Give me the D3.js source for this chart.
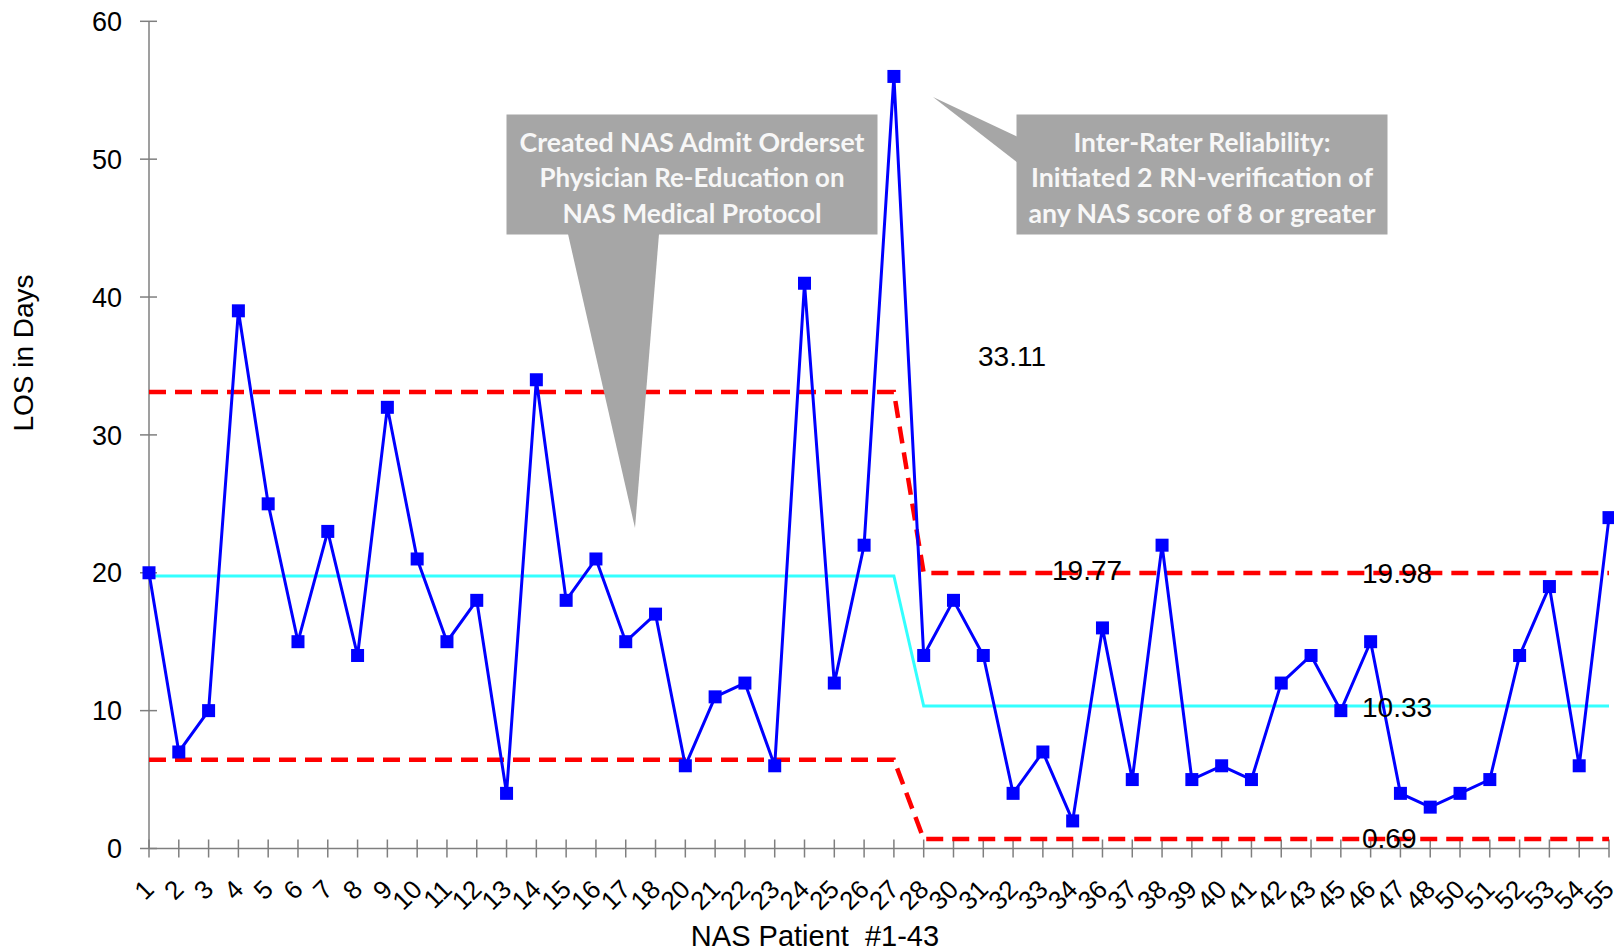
<!DOCTYPE html>
<html>
<head>
<meta charset="utf-8">
<script src="https://cdn.jsdelivr.net/npm/d3@7"></script>
<style>
  html, body { margin: 0; padding: 0; background: #fff; }
  svg { display: block; }
</style>
</head>
<body>
<svg id="chart" width="1614" height="951"></svg>
<script>
// ---------------- DATA ----------------
const patients = ["1","2","3","4","5","6","7","8","9","10","11","12","13","14","15","16","17","18",
  "20","21","22","23","24","25","26","27","28",
  "30","31","32","33","34",
  "36","37","38","39","40","41","42","43",
  "45","46","47","48",
  "50","51","52","53","54","55"];
const losDays = [20,7,10,39,25,15,23,14,32,21,15,18,4,34,18,21,15,17,
  6,11,12,6,41,12,22,56,14,
  18,14,4,7,2,
  16,5,22,5,6,5,12,14,
  10,15,4,3,
  4,5,14,19,6,24];
const yTicks = [0, 10, 20, 30, 40, 50, 60];
// control-chart phases
const phaseStart = ["1", "28"];
const phaseEnd   = ["27", "55"];
const uclValues  = [33.11, 19.98];
const clValues   = [19.77, 10.33];
const lclValues  = [6.43, 0.69];
const limitLabels = ["33.11", "19.77", "19.98", "10.33", "0.69"];
const callout1Lines = ["Created NAS Admit Orderset", "Physician Re-Education on", "NAS Medical Protocol"];
const callout2Lines = ["Inter-Rater Reliability:", "Initiated 2 RN-verification of", "any NAS score of 8 or greater"];
const xTitle = "NAS Patient  #1-43";
const yTitle = "LOS in Days";

// ---------------- CHART ----------------
const svg = d3.select("#chart");
const x = d3.scalePoint().domain(patients).range([149, 1609]);
const y = d3.scaleLinear().domain([0, 60]).range([848.5, 21.3]);
const axisColor = "#7f7f7f";
const font = "'Liberation Sans', Arial, sans-serif";

// axes lines
svg.append("line").attr("x1", x(patients[0])).attr("x2", x(patients[0]))
  .attr("y1", y(60)).attr("y2", y(0)).attr("stroke", axisColor).attr("stroke-width", 1.5);
svg.append("line").attr("x1", x(patients[0])).attr("x2", x(patients[patients.length - 1]))
  .attr("y1", y(0)).attr("y2", y(0)).attr("stroke", axisColor).attr("stroke-width", 1.5);

// y ticks
const yg = svg.append("g");
yg.selectAll("line").data(yTicks).join("line")
  .attr("x1", 140).attr("x2", 157)
  .attr("y1", d => y(d)).attr("y2", d => y(d))
  .attr("stroke", axisColor).attr("stroke-width", 1.5);
yg.selectAll("text").data(yTicks).join("text")
  .attr("x", 122).attr("y", d => y(d)).attr("dy", "0.36em")
  .attr("text-anchor", "end").attr("font-family", font).attr("font-size", 27)
  .attr("fill", "#000").text(d => d);

// x ticks
const xg = svg.append("g");
xg.selectAll("line").data(patients).join("line")
  .attr("x1", d => x(d)).attr("x2", d => x(d))
  .attr("y1", y(0) - 9).attr("y2", y(0) + 9)
  .attr("stroke", axisColor).attr("stroke-width", 1.5);
xg.selectAll("text").data(patients).join("text")
  .attr("transform", d => `translate(${x(d) + 6.5},891) rotate(-45)`)
  .attr("text-anchor", "end").attr("font-family", font).attr("font-size", 26)
  .attr("fill", "#000").text(d => d);

// axis titles
svg.append("text").attr("x", 815).attr("y", 946).attr("text-anchor", "middle")
  .attr("font-family", font).attr("font-size", 29).attr("fill", "#000")
  .style("white-space", "pre").text(xTitle);
svg.append("text").attr("transform", "translate(33,353) rotate(-90)")
  .attr("text-anchor", "middle").attr("font-family", font).attr("font-size", 28)
  .attr("fill", "#000").text(yTitle);

// control limit lines built from phases
function phasePoints(values) {
  const pts = [];
  values.forEach((v, i) => {
    pts.push([x(phaseStart[i]), y(v)]);
    pts.push([x(phaseEnd[i]), y(v)]);
  });
  return pts;
}
const lineGen = d3.line();
[uclValues, lclValues].forEach(vals => {
  svg.append("path").attr("d", lineGen(phasePoints(vals)))
    .attr("fill", "none").attr("stroke", "#ff0000").attr("stroke-width", 4.5)
    .attr("stroke-dasharray", "17,9");
});
svg.append("path").attr("d", lineGen(phasePoints(clValues)))
  .attr("fill", "none").attr("stroke", "#33ffff").attr("stroke-width", 3);

// data series
const series = patients.map((p, i) => ({ p, v: losDays[i] }));
svg.append("path")
  .attr("d", d3.line().x(d => x(d.p)).y(d => y(d.v))(series))
  .attr("fill", "none").attr("stroke", "#0000ff").attr("stroke-width", 3);
svg.append("g").selectAll("rect").data(series).join("rect")
  .attr("x", d => x(d.p) - 6.5).attr("y", d => y(d.v) - 6.5)
  .attr("width", 13).attr("height", 13).attr("fill", "#0000ff");

// limit value labels
const labelPos = [
  { x: 978,  y: 366 },
  { x: 1052, y: 580 },
  { x: 1362, y: 583 },
  { x: 1362, y: 717 },
  { x: 1362, y: 848 }
];
svg.append("g").selectAll("text").data(limitLabels).join("text")
  .attr("x", (d, i) => labelPos[i].x).attr("y", (d, i) => labelPos[i].y)
  .attr("font-family", font).attr("font-size", 28).attr("fill", "#000")
  .text(d => d);

// callouts
const calloutFill = "#a6a6a6";
function callout(box, pointer, lines, widths) {
  const g = svg.append("g");
  g.append("polygon").attr("points", pointer.map(p => p.join(",")).join(" ")).attr("fill", calloutFill);
  g.append("rect").attr("x", box.x).attr("y", box.y).attr("width", box.w).attr("height", box.h).attr("fill", calloutFill);
  g.selectAll("text").data(lines).join("text")
    .attr("x", box.x + box.w / 2).attr("y", (d, i) => 151.5 + i * 35.5)
    .attr("text-anchor", "middle")
    .attr("font-family", "Lato, 'Open Sans', sans-serif").attr("font-weight", "bold")
    .attr("font-size", 27).attr("fill", "#f7f7f7")
    .attr("textLength", (d, i) => widths[i]).attr("lengthAdjust", "spacingAndGlyphs")
    .text(d => d);
}
callout({ x: 506.5, y: 114.5, w: 371, h: 120 },
  [[568, 234], [659, 234], [635, 528]], callout1Lines, [345, 305, 259]);
callout({ x: 1016.5, y: 114.5, w: 371, h: 120 },
  [[933, 97], [1018, 137], [1018, 163]], callout2Lines, [257, 342, 347]);
</script>
</body>
</html>
